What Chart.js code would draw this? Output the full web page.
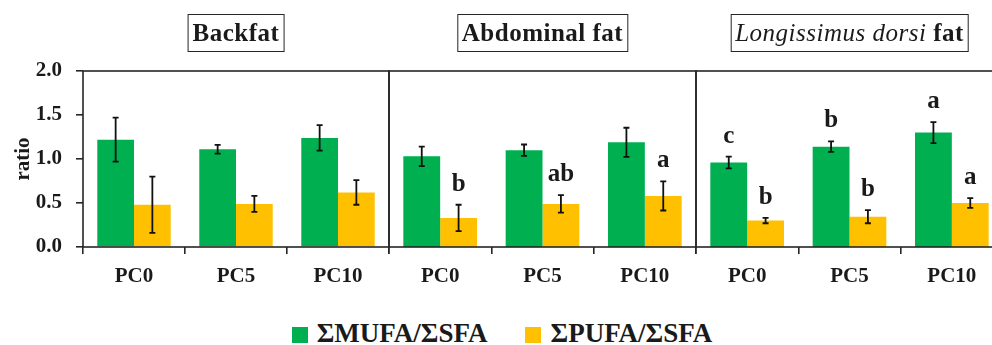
<!DOCTYPE html>
<html>
<head>
<meta charset="utf-8">
<script src="https://cdn.jsdelivr.net/npm/chart.js@4.4.1/dist/chart.umd.min.js"></script>
<style>
    html, body { margin: 0; padding: 0; background: #fff; }
    #wrap { position: relative; width: 992px; height: 345px; overflow: hidden; font-family: "Liberation Serif", serif; color: #1a1a1a; }
    #wrap canvas { position: absolute; top: 0; }
    .panel-title {
        position: absolute; top: 14px; height: 36px; line-height: 36px;
        border: 1.5px solid #262626; padding: 0 4px; white-space: nowrap; letter-spacing: 0.5px;
        font-weight: bold; font-size: 25px; transform: translateX(-50%);
    }
    .panel-title i { font-weight: normal; }
    #legend { position: absolute; left: 6px; top: 318px; width: 992px; display: flex; justify-content: center; gap: 38px; }
    .leg-item { display: flex; align-items: center; font-weight: bold; font-size: 27px; }
    .leg-box { width: 16px; height: 16px; margin-right: 9px; margin-top: 2px; }
</style>
</head>
<body>
<div id="wrap">
    <canvas id="c-back" width="400" height="300" style="left:0px"></canvas>
    <canvas id="c-abd" width="330" height="300" style="left:380px"></canvas>
    <canvas id="c-ld" width="340" height="300" style="left:680px"></canvas>
    <div id="legend"></div>
</div>
<script>
// --- data ---
const groups = ['PC0', 'PC5', 'PC10'];
const yTicks = [0, 0.5, 1.0, 1.5, 2.0];
const seriesNames = ['ΣMUFA/ΣSFA', 'ΣPUFA/ΣSFA'];
const seriesColors = ['#00B050', '#FFC000'];

// Backfat
const mufaBack = [1.22, 1.11, 1.24];
const mufaBackErr = [0.25, 0.05, 0.145];
const mufaBackLetters = ['', '', ''];
const pufaBack = [0.48, 0.49, 0.62];
const pufaBackErr = [0.32, 0.09, 0.14];
const pufaBackLetters = ['', '', ''];

// Abdominal fat
const mufaAbd = [1.03, 1.10, 1.19];
const mufaAbdErr = [0.11, 0.065, 0.165];
const mufaAbdLetters = ['', '', ''];
const pufaAbd = [0.33, 0.49, 0.58];
const pufaAbdErr = [0.15, 0.10, 0.165];
const pufaAbdLetters = ['b', 'ab', 'a'];

// Longissimus dorsi fat
const mufaLd = [0.96, 1.14, 1.30];
const mufaLdErr = [0.066, 0.06, 0.12];
const mufaLdLetters = ['c', 'b', 'a'];
const pufaLd = [0.30, 0.345, 0.50];
const pufaLdErr = [0.03, 0.075, 0.055];
const pufaLdLetters = ['b', 'b', 'a'];

const LINE = '#262626';
const FONT = '"Liberation Serif", serif';

// error bars, significance letters and the box round the plot
const decorPlugin = {
    id: 'decor',
    afterDatasetsDraw(chart) {
        const ctx = chart.ctx;
        const y = chart.scales.y;
        ctx.save();
        chart.data.datasets.forEach((ds, di) => {
            const meta = chart.getDatasetMeta(di);
            meta.data.forEach((bar, i) => {
                const hi = y.getPixelForValue(ds.data[i] + ds.err[i]);
                const lo = y.getPixelForValue(ds.data[i] - ds.err[i]);
                ctx.strokeStyle = '#111';
                ctx.lineWidth = 1.8;
                ctx.beginPath();
                ctx.moveTo(bar.x, hi); ctx.lineTo(bar.x, lo);
                ctx.moveTo(bar.x - 3, hi); ctx.lineTo(bar.x + 3, hi);
                ctx.moveTo(bar.x - 3, lo); ctx.lineTo(bar.x + 3, lo);
                ctx.stroke();
                if (ds.letters[i]) {
                    ctx.fillStyle = '#1a1a1a';
                    ctx.font = 'bold 25px ' + FONT;
                    ctx.textAlign = 'center';
                    ctx.textBaseline = 'alphabetic';
                    ctx.fillText(ds.letters[i], bar.x, hi - 14);
                }
            });
        });
        const a = chart.chartArea;
        ctx.strokeStyle = LINE;
        ctx.lineWidth = 1.6;
        ctx.strokeRect(a.left, a.top, a.right - a.left, a.bottom - a.top);
        ctx.restore();
    }
};

function makePanel(id, mufa, mufaErr, mufaLet, pufa, pufaErr, pufaLet, pad, showY) {
    const ctx = document.getElementById(id).getContext('2d');
    return new Chart(ctx, {
        type: 'bar',
        data: {
            labels: groups,
            datasets: [
                { label: seriesNames[0], data: mufa, err: mufaErr, letters: mufaLet, backgroundColor: seriesColors[0] },
                { label: seriesNames[1], data: pufa, err: pufaErr, letters: pufaLet, backgroundColor: seriesColors[1] }
            ]
        },
        options: {
            responsive: false,
            animation: false,
            categoryPercentage: 0.72,
            barPercentage: 1.0,
            layout: { padding: { top: 71, bottom: 0, left: pad.left, right: pad.right } },
            plugins: { legend: { display: false }, tooltip: { enabled: false } },
            scales: {
                x: {
                    grid: { drawOnChartArea: false, tickLength: 7, color: LINE, lineWidth: 1.6 },
                    border: { display: false },
                    ticks: { color: '#1a1a1a', padding: 10, font: { family: FONT, size: 21, weight: 'bold' } },
                    afterFit: (s) => { s.height = 53; }
                },
                y: {
                    display: showY,
                    min: 0, max: 2,
                    afterBuildTicks: (s) => { s.ticks = yTicks.map(v => ({ value: v })); },
                    grid: { drawOnChartArea: false, tickLength: 7, color: LINE, lineWidth: 1.6 },
                    border: { display: false },
                    ticks: {
                        color: '#1a1a1a', padding: 14,
                        font: { family: FONT, size: 21, weight: 'bold' },
                        callback: (v) => Number(v).toFixed(1)
                    },
                    title: {
                        display: true, text: 'ratio', color: '#1a1a1a',
                        padding: { top: 11, bottom: 0 },
                        font: { family: FONT, size: 21, weight: 'bold' }
                    },
                    afterFit: (s) => { s.width = showY ? 83 : 0; }
                }
            }
        },
        plugins: [decorPlugin]
    });
}

const panels = [
    { chart: makePanel('c-back', mufaBack, mufaBackErr, mufaBackLetters, pufaBack, pufaBackErr, pufaBackLetters, { left: 0, right: 11 }, true),
      title: 'Backfat' },
    { chart: makePanel('c-abd', mufaAbd, mufaAbdErr, mufaAbdLetters, pufaAbd, pufaAbdErr, pufaAbdLetters, { left: 9, right: 14 }, false),
      title: 'Abdominal fat' },
    { chart: makePanel('c-ld', mufaLd, mufaLdErr, mufaLdLetters, pufaLd, pufaLdErr, pufaLdLetters, { left: 16, right: 17 }, false),
      title: '<i>Longissimus dorsi</i> fat' }
];

// titles centred over each plot area
const wrap = document.getElementById('wrap');
panels.forEach(p => {
    const a = p.chart.chartArea;
    const left = p.chart.canvas.offsetLeft + (a.left + a.right) / 2;
    const div = document.createElement('div');
    div.className = 'panel-title';
    div.style.left = left + 'px';
    div.innerHTML = p.title;
    wrap.appendChild(div);
});

// shared legend
const legend = document.getElementById('legend');
seriesNames.forEach((name, i) => {
    const item = document.createElement('div');
    item.className = 'leg-item';
    item.innerHTML = `<span class="leg-box" style="background:${seriesColors[i]}"></span>${name}`;
    legend.appendChild(item);
});
</script>
</body>
</html>
